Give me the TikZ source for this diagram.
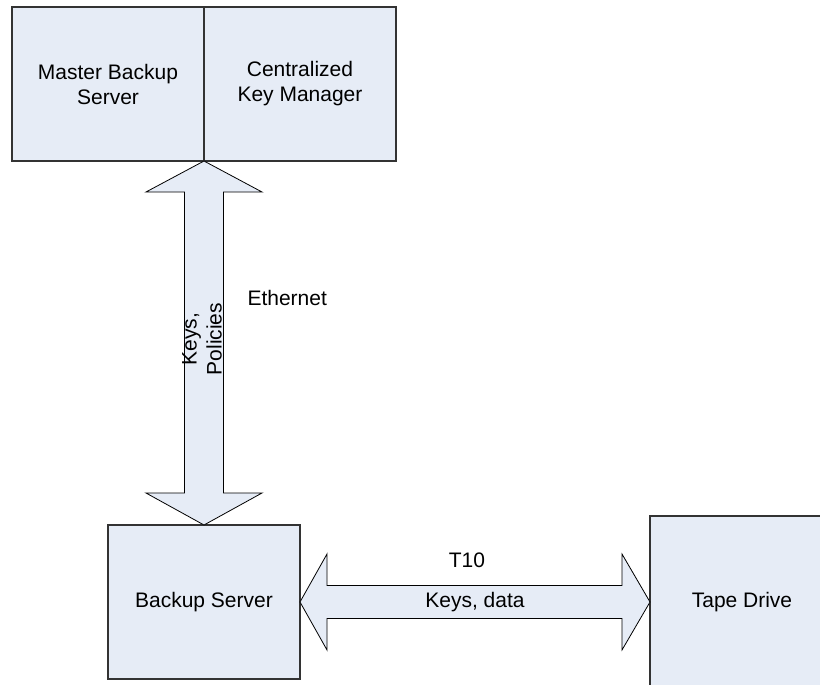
\documentclass[tikz,border=0pt]{standalone}
\usepackage{fontspec}
\setmainfont{Liberation Sans}
\usepackage{xcolor}
\usepackage{tikz}
\usetikzlibrary{calc, positioning}

\definecolor{boxfill}{RGB}{230,236,246}

\tikzset{
  box/.style={draw=black!80, line width=1.1pt, fill=boxfill, outer sep=0pt,
    align=center, minimum width=192pt, minimum height=154pt},
  fatarrow/.style={draw=black, line width=0.8pt, fill=boxfill, line join=miter}
}

\begin{document}
\begin{tikzpicture}[x=1pt, y=-1pt, font=\fontsize{21}{25}\selectfont]
\useasboundingbox (0,0) rectangle (820,685);
\clip (0,0) rectangle (820,685);
% servers
\node [box] (master) at (108,84) {Master Backup\\Server};
\node [box, right=0pt of master] (keymgr) {Centralized\\Key Manager};
\node [box] (backup) at (204,602) {Backup Server};
\node [box, minimum width=184pt, minimum height=172pt] (tape) at (742,602) {Tape Drive};
% ethernet link
\draw [fatarrow] (master.south east) -- ++(58,31) -- ++(-38.5,0)
  -- ($(backup.north)+(19.5,-32)$) -- ++(38.5,0) -- (backup.north)
  -- ++(-58,-32) -- ++(38.5,0) -- ($(master.south east)+(-19.5,31)$)
  -- ++(-38.5,0) -- cycle;
\node [rotate=90, align=center] (keyspol) at (202,339) {Keys,\\Policies};
\node [right] (ether) at (244,298) {Ethernet};
% T10 link
\draw [fatarrow] (backup.east) -- ++(27,-48) -- ++(0,31.5)
  -- ($(tape.west)+(-28,-16.5)$) -- ++(0,-31.5) -- (tape.west)
  -- ++(-28,48) -- ++(0,-31.5) -- ($(backup.east)+(27,16.5)$)
  -- ++(0,31.5) -- cycle;
\node (t10) at (467,560) {T10};
\node (keysdata) at (475,602) {Keys, data};
\end{tikzpicture}
\end{document}
